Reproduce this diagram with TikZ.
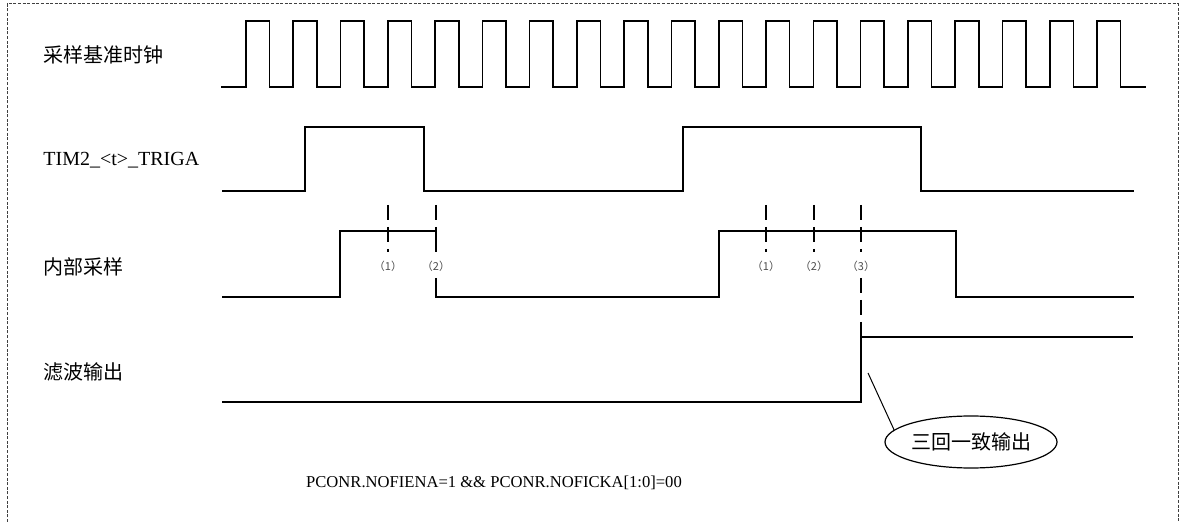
\documentclass[tikz,border=0pt]{standalone}
\usepackage{fontspec}
\setmainfont{Liberation Serif}
\newfontfamily\cjk{Noto Sans CJK SC}
\usetikzlibrary{shapes.geometric, positioning}

\begin{document}
\begin{tikzpicture}[
    x=0.5pt, y=-0.5pt,
    wave/.style={line width=0.8pt, line join=miter},
    probe/.style={line width=0.8pt, dash pattern=on 7.5pt off 3.5pt},
    siglbl/.style={anchor=west, inner sep=0pt, font=\cjk\fontsize{10}{12}\selectfont},
    tagnum/.style={inner sep=0pt, text=black!70, font=\cjk\fontsize{5.5}{6}\selectfont},
    notebubble/.style={ellipse, draw, line width=0.6pt, minimum width=86pt,
                       minimum height=26pt, inner sep=0pt,
                       font=\cjk\fontsize{10}{12}\selectfont},
    frame/.style={line width=0.5pt, draw=black!75, dash pattern=on 1.5pt off 0.8pt}
]
\useasboundingbox (0,0) rectangle (1186,522);

% --- Outer dashed frame (open at the bottom) ---
\draw[frame] (7,522) |- (1178,4) -- (1178,522);

% --- Signal names ---
\node[siglbl] (clk) at (43,55) {采样基准时钟};
\node[siglbl, font=\fontsize{10}{12}\selectfont] (trig) at (43,160) {TIM2\_<t>\_TRIGA};
\node[siglbl] (samp) at (43,267) {内部采样};
\node[siglbl] (filt) at (43,372) {滤波输出};

% --- Sampling clock ---
\draw[wave] (221,87) \foreach \k in {0,...,18} {
    -- ({246+47.28*\k},87) -- ++(0,-66) -- ++(23.6,0) -- ++(0,66)
} -- (1146,87);

% --- Trigger input ---
\draw[wave] (222,191) -| (305,127) -| (424,191) -| (683,127) -| (921,191) -- (1134,191);

% --- Internal sampling (first falling edge broken by tag) ---
\draw[wave] (222,297) -| (340,231) -| (436,250);
\draw[wave] (436,278) -- (436,297) -| (719,231) -| (956,297) -- (1134,297);

% --- Filter output ---
\coordinate (rise) at (861,337);
\draw[wave] (222,402) -| (rise) -- (1133,337);

% --- Sample markers ---
\foreach \x/\n/\id in {388/1/a, 436/2/b, 766/1/c, 814/2/d, 861/3/e} {
    \node[tagnum] (tag\id) at (\x,266) {（\n）};
    \coordinate (top\id) at (\x,205);
    \draw[probe] (top\id) -- (\x,252);
}
\draw[probe] (861,278) -- (rise);

% --- Callout ---
\node[notebubble] (note) at (971,442) {三回一致输出};
\coordinate (edge) at (868,373);
\draw[line width=0.5pt] (edge) -- (note.171);

% --- Condition text ---
\node[font=\fontsize{8.3}{10}\selectfont] (cond) at (494,483)
    {PCONR.NOFIENA=1 \&\& PCONR.NOFICKA[1:0]=00};

\end{tikzpicture}
\end{document}
